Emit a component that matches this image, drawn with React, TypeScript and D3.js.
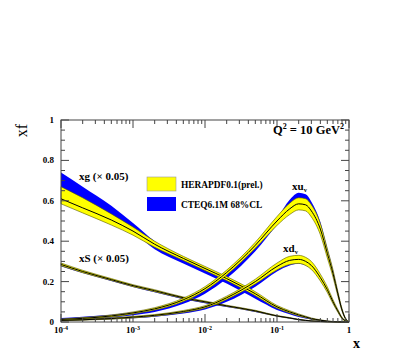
import React from 'react';
import * as d3 from 'd3';

// x grid shared by every curve
const xs = [1e-4, 2e-4, 5e-4, 1e-3, 2e-3, 5e-3, 1e-2, 2e-2, 5e-2, 0.1, 0.15, 0.2, 0.25, 0.3, 0.4, 0.5, 0.6, 0.7, 0.8, 0.9, 1];

// xg (x 0.05)
const xgHera = [0.61, 0.565, 0.505, 0.45, 0.385, 0.315, 0.265, 0.215, 0.14, 0.075, 0.05, 0.035, 0.025, 0.017, 0.009, 0.004, 0.002, 0.001, 0.0003, 0.0001, 0];
const xgHeraLo = [0.585, 0.54, 0.48, 0.43, 0.37, 0.305, 0.255, 0.205, 0.13, 0.068, 0.044, 0.03, 0.021, 0.014, 0.007, 0.003, 0.0015, 0.0005, 0.0001, 0, 0];
const xgHeraHi = [0.67, 0.615, 0.535, 0.47, 0.4, 0.325, 0.275, 0.225, 0.15, 0.082, 0.056, 0.04, 0.029, 0.02, 0.011, 0.005, 0.0025, 0.0012, 0.0005, 0.0002, 0];
const xgCteqLo = [0.665, 0.605, 0.52, 0.445, 0.36, 0.29, 0.24, 0.19, 0.115, 0.06, 0.038, 0.025, 0.017, 0.012, 0.006, 0.003, 0.0015, 0.0005, 0.0001, 0, 0];
const xgCteqHi = [0.74, 0.67, 0.575, 0.49, 0.4, 0.32, 0.265, 0.21, 0.135, 0.075, 0.05, 0.035, 0.025, 0.018, 0.01, 0.005, 0.0025, 0.001, 0.0004, 0.0001, 0];

// xS (x 0.05)
const xsHera = [0.285, 0.25, 0.21, 0.18, 0.155, 0.12, 0.1, 0.08, 0.055, 0.03, 0.02, 0.012, 0.008, 0.005, 0.0025, 0.001, 0.0005, 0.0002, 0.0001, 0, 0];
const xsHeraLo = [0.278, 0.244, 0.205, 0.175, 0.15, 0.116, 0.096, 0.077, 0.052, 0.028, 0.018, 0.011, 0.007, 0.004, 0.002, 0.0008, 0.0003, 0.0001, 0, 0, 0];
const xsHeraHi = [0.292, 0.256, 0.215, 0.185, 0.16, 0.124, 0.104, 0.083, 0.058, 0.032, 0.022, 0.013, 0.009, 0.006, 0.003, 0.0012, 0.0006, 0.0003, 0.0001, 0, 0];
const xsCteqLo = [0.276, 0.242, 0.203, 0.173, 0.147, 0.113, 0.093, 0.074, 0.05, 0.027, 0.017, 0.01, 0.006, 0.004, 0.002, 0.0008, 0.0003, 0.0001, 0, 0, 0];
const xsCteqHi = [0.29, 0.254, 0.213, 0.183, 0.158, 0.122, 0.102, 0.081, 0.056, 0.031, 0.021, 0.013, 0.009, 0.006, 0.003, 0.0012, 0.0006, 0.0003, 0.0001, 0, 0];

// xu_v
const xuHera = [0.012, 0.018, 0.03, 0.045, 0.065, 0.11, 0.165, 0.245, 0.38, 0.5, 0.56, 0.585, 0.58, 0.55, 0.46, 0.34, 0.24, 0.14, 0.06, 0.015, 0];
const xuHeraLo = [0.009, 0.014, 0.025, 0.04, 0.059, 0.102, 0.155, 0.233, 0.365, 0.478, 0.532, 0.555, 0.55, 0.52, 0.432, 0.317, 0.222, 0.128, 0.053, 0.012, 0];
const xuHeraHi = [0.015, 0.022, 0.035, 0.05, 0.071, 0.118, 0.175, 0.257, 0.395, 0.522, 0.588, 0.615, 0.61, 0.58, 0.488, 0.363, 0.258, 0.152, 0.067, 0.018, 0];
const xuCteqLo = [0.008, 0.013, 0.022, 0.034, 0.05, 0.09, 0.14, 0.215, 0.35, 0.48, 0.55, 0.58, 0.575, 0.545, 0.455, 0.335, 0.235, 0.135, 0.055, 0.012, 0];
const xuCteqHi = [0.02, 0.026, 0.036, 0.048, 0.066, 0.108, 0.16, 0.237, 0.372, 0.51, 0.605, 0.64, 0.632, 0.595, 0.495, 0.365, 0.258, 0.15, 0.065, 0.016, 0];

// xd_v
const xdHera = [0.008, 0.011, 0.017, 0.024, 0.033, 0.052, 0.075, 0.12, 0.2, 0.275, 0.305, 0.31, 0.3, 0.28, 0.22, 0.16, 0.1, 0.055, 0.02, 0.005, 0];
const xdHeraLo = [0.006, 0.009, 0.014, 0.02, 0.029, 0.047, 0.069, 0.112, 0.188, 0.258, 0.285, 0.29, 0.28, 0.26, 0.203, 0.146, 0.09, 0.048, 0.016, 0.003, 0];
const xdHeraHi = [0.01, 0.013, 0.02, 0.028, 0.037, 0.057, 0.081, 0.128, 0.212, 0.292, 0.325, 0.33, 0.32, 0.3, 0.237, 0.174, 0.11, 0.062, 0.024, 0.007, 0];
const xdCteqLo = [0.006, 0.009, 0.013, 0.018, 0.026, 0.042, 0.062, 0.1, 0.175, 0.25, 0.28, 0.288, 0.28, 0.262, 0.205, 0.148, 0.092, 0.05, 0.017, 0.004, 0];
const xdCteqHi = [0.014, 0.017, 0.021, 0.027, 0.035, 0.053, 0.075, 0.116, 0.196, 0.275, 0.305, 0.31, 0.302, 0.282, 0.222, 0.162, 0.102, 0.057, 0.021, 0.006, 0];

const yTicks = [0, 0.2, 0.4, 0.6, 0.8, 1];
const yTickLabels = ['0', '0.2', '0.4', '0.6', '0.8', '1'];
const xDecades = [1e-4, 1e-3, 1e-2, 1e-1, 1];
const xDecadeExps = ['-4', '-3', '-2', '-1', ''];

const W = 415;
const H = 354;
const left = 61, right = 349, top = 120, bottom = 322;
const font = '"Liberation Serif", "DejaVu Serif", serif';

export default function App() {
  const x = d3.scaleLog().domain([1e-4, 1]).range([left, right]);
  const y = d3.scaleLinear().domain([0, 1]).range([bottom, top]);

  const band = (lo: number[], hi: number[]) =>
    d3.area<number>()
      .x((_, i) => x(xs[i]))
      .y0((_, i) => y(lo[i]))
      .y1((_, i) => y(hi[i]))
      .curve(d3.curveMonotoneX)(xs) as string;
  const line = (v: number[]) =>
    d3.line<number>()
      .x((_, i) => x(xs[i]))
      .y((_, i) => y(v[i]))
      .curve(d3.curveMonotoneX)(xs) as string;

  const cteq = [
    [xgCteqLo, xgCteqHi], [xsCteqLo, xsCteqHi], [xuCteqLo, xuCteqHi], [xdCteqLo, xdCteqHi],
  ];
  const hera = [
    [xgHeraLo, xgHeraHi, xgHera], [xsHeraLo, xsHeraHi, xsHera],
    [xuHeraLo, xuHeraHi, xuHera], [xdHeraLo, xdHeraHi, xdHera],
  ];

  // minor ticks
  const yMinor = d3.range(0, 1.0001, 0.05).filter(v => Math.abs(v * 5 - Math.round(v * 5)) > 1e-6);
  const xMinor: number[] = [];
  for (let e = -4; e < 0; e++) for (let k = 2; k <= 9; k++) xMinor.push(k * Math.pow(10, e));

  const axisColor = '#444';

  return (
    <svg width={W} height={H} style={{ position: 'absolute', left: 0, top: 0, background: '#fff' }}>
      {cteq.map(([lo, hi], i) => (
        <path key={'c' + i} d={band(lo, hi)} fill="#0000ff" stroke="none" />
      ))}
      {hera.map(([lo, hi, c], i) => (
        <g key={'h' + i}>
          <path d={band(lo, hi)} fill="#ffff00" stroke="#555500" strokeWidth={0.6} />
          <path d={line(c)} fill="none" stroke="#000" strokeWidth={1} />
        </g>
      ))}

      {/* frame */}
      <rect x={left} y={top} width={right - left} height={bottom - top} fill="none" stroke={axisColor} strokeWidth={1} />

      {/* y ticks */}
      {yTicks.map((v, i) => (
        <g key={'yt' + i}>
          <line x1={left} x2={left + 8} y1={y(v)} y2={y(v)} stroke={axisColor} />
          <line x1={right} x2={right - 8} y1={y(v)} y2={y(v)} stroke={axisColor} />
          <text x={left - 7} y={y(v) + 3} textAnchor="end" fontFamily={font} fontWeight="bold" fontSize={9}>{yTickLabels[i]}</text>
        </g>
      ))}
      {yMinor.map((v, i) => (
        <g key={'ym' + i}>
          <line x1={left} x2={left + 4} y1={y(v)} y2={y(v)} stroke={axisColor} />
          <line x1={right} x2={right - 4} y1={y(v)} y2={y(v)} stroke={axisColor} />
        </g>
      ))}

      {/* x ticks */}
      {xDecades.map((v, i) => (
        <g key={'xt' + i}>
          <line x1={x(v)} x2={x(v)} y1={bottom} y2={bottom - 8} stroke={axisColor} />
          <line x1={x(v)} x2={x(v)} y1={top} y2={top + 8} stroke={axisColor} />
          <text x={x(v)} y={bottom + 11} textAnchor="middle" fontFamily={font} fontWeight="bold" fontSize={9}>
            {xDecadeExps[i] ? <>10<tspan dy={-3} fontSize={6}>{xDecadeExps[i]}</tspan></> : '1'}
          </text>
        </g>
      ))}
      {xMinor.map((v, i) => (
        <g key={'xm' + i}>
          <line x1={x(v)} x2={x(v)} y1={bottom} y2={bottom - 4} stroke={axisColor} />
          <line x1={x(v)} x2={x(v)} y1={top} y2={top + 4} stroke={axisColor} />
        </g>
      ))}

      {/* axis titles */}
      <text x={353} y={348} fontFamily={font} fontWeight="bold" fontSize={14}>x</text>
      <text transform="translate(27,124) rotate(-90)" textAnchor="end" fontFamily={font} fontSize={16}>xf</text>
      <text x={344} y={134} textAnchor="end" fontFamily={font} fontWeight="bold" fontSize={12.5}>
        Q<tspan dy={-5} fontSize={8}>2</tspan><tspan dy={5}> = 10 GeV</tspan><tspan dy={-5} fontSize={8}>2</tspan>
      </text>

      {/* curve labels */}
      <text x={79} y={180} fontFamily={font} fontWeight="bold" fontSize={11}>xg (× 0.05)</text>
      <text x={79} y={262} fontFamily={font} fontWeight="bold" fontSize={11}>xS (× 0.05)</text>
      <text x={292} y={190} fontFamily={font} fontWeight="bold" fontSize={11}>xu<tspan dy={2} fontSize={6.5}>v</tspan></text>
      <text x={283} y={252} fontFamily={font} fontWeight="bold" fontSize={11}>xd<tspan dy={2} fontSize={6.5}>v</tspan></text>

      {/* legend */}
      <rect x={147} y={177} width={29} height={14} fill="#ffff00" stroke="#999" strokeWidth={0.6} />
      <rect x={147} y={197} width={29} height={14} fill="#0000ff" stroke="none" />
      <text x={181} y={188} fontFamily={font} fontWeight="bold" fontSize={9.4}>HERAPDF0.1(prel.)</text>
      <text x={181} y={208} fontFamily={font} fontWeight="bold" fontSize={9.4}>CTEQ6.1M 68%CL</text>
    </svg>
  );
}
